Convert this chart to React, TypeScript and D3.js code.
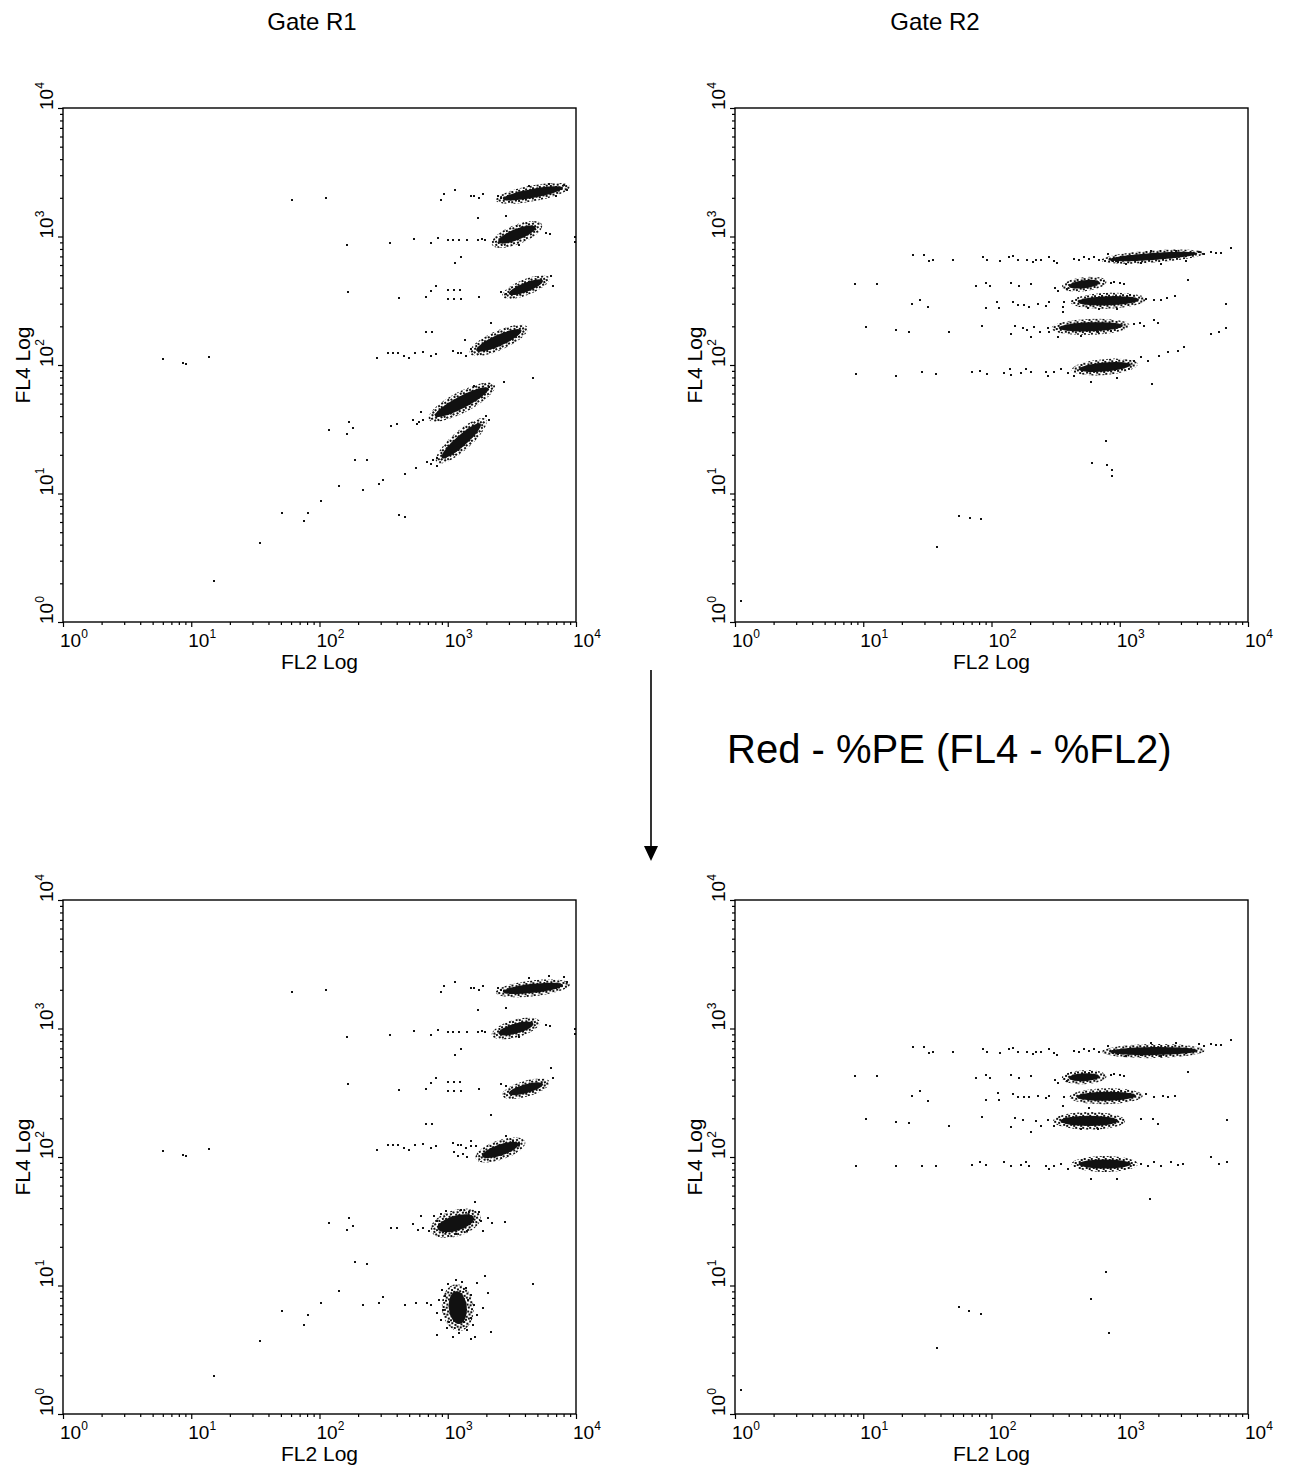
import React, { useEffect, useRef } from "react";
import * as d3 from "d3";

// all events in instrument channels (0..1023, log amplifier: 256 channels per decade)
// [FL2 channel, FL4 channel]
type Ev = [number, number];
// dense population: [FL2 start, FL4 start, FL2 end, FL4 end, core width] in channels
type Pop = [number, number, number, number, number];

const decades = [1, 10, 100, 1000, 10000];
const decadeExp = ["0", "1", "2", "3", "4"];
const gateTitles = ["Gate R1", "Gate R2"];
const xTitle = "FL2 Log";
const yTitle = "FL4 Log";
const bigLabel = "Red - %PE (FL4 - %FL2)";

// ---- gate R1 ----
const popsR1Raw: Pop[] = [
  [884, 844, 992, 864, 18],
  [876, 760, 936, 784, 22],
  [896, 656, 952, 678, 18],
  [832, 544, 908, 578, 22],
  [750, 414, 842, 462, 24],
  [762, 332, 828, 390, 22],
];
const popsR1Comp: Pop[] = [
  [884, 842, 992, 854, 18],
  [876, 760, 932, 776, 20],
  [896, 640, 952, 656, 18],
  [844, 516, 902, 536, 22],
  [758, 372, 810, 388, 30],
  [786, 232, 790, 192, 36],
];
// sparse events, same in both R1 plots (upper rows)
const outUpperR1: Ev[] = [
  [458, 840], [524, 844], [760, 852], [782, 860], [754, 840], [814, 848], [820, 848], [830, 844],
  [838, 852], [868, 848], [874, 844], [970, 872], [1000, 870], [1006, 860], [954, 852], [930, 868], [984, 848],
  [566, 752], [652, 756], [700, 764], [734, 756], [748, 766], [768, 762], [778, 762], [790, 762],
  [806, 762], [828, 762], [836, 764], [842, 762], [828, 804], [884, 808], [964, 774], [972, 772],
  [910, 752], [1022, 768], [1022, 758], [794, 728], [782, 716],
  [568, 658], [670, 646], [724, 648], [734, 660], [744, 670], [768, 662], [780, 662], [792, 662],
  [768, 644], [780, 644], [794, 644], [830, 648], [874, 658], [884, 654], [974, 690], [978, 670],
  [200, 524], [240, 516], [246, 514], [292, 528], [626, 526], [648, 536], [658, 536], [668, 536],
  [680, 530], [690, 526], [702, 536], [718, 538], [724, 578], [736, 578], [734, 530], [744, 534],
  [778, 540], [788, 536], [794, 536], [804, 530], [814, 544], [854, 596],
];
const outLowerR1Raw: Ev[] = [
  [802, 562], [880, 478], [938, 486], [820, 470], [838, 460], [850, 468],
  [530, 382], [570, 398], [578, 386], [566, 374], [654, 390], [666, 394], [698, 402], [706, 394],
  [710, 398], [718, 402], [714, 418], [582, 322], [606, 322], [682, 294], [704, 306], [638, 282],
  [630, 274], [598, 262], [550, 270], [514, 242], [438, 218], [490, 218], [482, 202], [394, 158],
  [302, 82], [670, 214], [682, 210], [726, 318], [734, 314], [738, 322], [746, 310], [746, 326],
  [844, 410], [850, 402],
];
const outLowerR1Comp: Ev[] = [
  [884, 554], [898, 544], [910, 538], [814, 534], [824, 534], [780, 522], [788, 514], [798, 518], [806, 512],
  [530, 380], [570, 390], [578, 374], [566, 366], [654, 370], [666, 370], [714, 394], [698, 378],
  [708, 366], [718, 370], [740, 394], [822, 422], [830, 402], [856, 380], [882, 382], [848, 390],
  [838, 364], [730, 364], [834, 384], [746, 384],
  [754, 398], [764, 404], [794, 406], [810, 402], [818, 388], [806, 364], [784, 358], [764, 362], [750, 376],
  [582, 302], [606, 298], [550, 246], [514, 222], [490, 198], [482, 178], [438, 206], [598, 218],
  [630, 222], [638, 234], [682, 218], [704, 222], [726, 222], [842, 274], [938, 258], [746, 158],
  [778, 154], [814, 150], [822, 154], [854, 164], [848, 242], [838, 212], [826, 260], [746, 202],
  [734, 218], [394, 146], [302, 76],
  [756, 248], [768, 258], [804, 252], [814, 238], [820, 218], [826, 198], [818, 178], [806, 168],
  [790, 162], [766, 172], [754, 188], [750, 228], [762, 236], [808, 228], [814, 192], [796, 262],
  [784, 266], [758, 208], [770, 184], [800, 184],
];

// ---- gate R2 ----
const popsR2Raw: Pop[] = [
  [750, 722, 918, 734, 14],
  [672, 670, 722, 676, 16],
  [690, 638, 800, 642, 18],
  [652, 586, 768, 590, 18],
  [692, 504, 784, 512, 18],
];
const popsR2Comp: Pop[] = [
  [752, 722, 918, 724, 16],
  [672, 670, 722, 672, 16],
  [688, 632, 794, 634, 18],
  [656, 584, 758, 584, 20],
  [692, 498, 784, 498, 18],
];
const outUpperR2: Ev[] = [
  [356, 732], [378, 732], [388, 720], [396, 722], [436, 722], [496, 728], [504, 722], [528, 720],
  [546, 728], [554, 730], [564, 722], [582, 722], [594, 718], [600, 722], [610, 722], [626, 728],
  [636, 720], [642, 716], [676, 724], [686, 722], [696, 728], [706, 724], [716, 728], [726, 722],
  [744, 734], [754, 720], [764, 718], [926, 738], [936, 734], [950, 738], [960, 736], [970, 736],
  [990, 746], [780, 714], [810, 716], [850, 714], [880, 740], [830, 740], [900, 720],
  [240, 674], [284, 674], [482, 670], [502, 676], [510, 670], [550, 676], [566, 670], [590, 674],
  [638, 666], [644, 660], [662, 664], [750, 676], [756, 678], [768, 676], [776, 674], [904, 682],
];
const outLowerR2Raw: Ev[] = [
  [354, 634], [370, 642], [386, 628], [502, 626], [522, 638], [526, 626], [554, 638], [564, 632],
  [576, 632], [586, 628], [604, 634], [620, 630], [626, 638], [654, 628], [656, 638], [654, 618],
  [820, 644], [836, 642], [850, 642], [862, 646], [878, 650], [980, 634], [704, 626], [726, 624], [762, 624],
  [262, 588], [322, 582], [348, 578], [428, 578], [494, 590], [550, 574], [558, 590], [574, 586],
  [582, 582], [590, 568], [596, 588], [608, 578], [624, 586], [626, 578], [644, 568], [796, 594],
  [808, 596], [816, 590], [836, 602], [844, 596], [950, 574], [966, 578], [980, 586], [690, 570],
  [724, 578], [750, 580],
  [242, 494], [322, 490], [374, 498], [402, 494], [474, 498], [490, 500], [504, 494], [536, 496],
  [548, 504], [550, 492], [570, 496], [580, 504], [590, 498], [620, 498], [624, 490], [636, 498],
  [650, 504], [664, 496], [676, 490], [710, 478], [762, 486], [796, 520], [810, 528], [824, 520],
  [832, 474], [846, 530], [864, 538], [884, 540], [896, 548],
  [740, 360], [712, 316], [742, 312], [752, 302], [752, 290], [448, 212], [470, 208], [492, 206],
  [404, 150], [12, 42],
];
const outLowerR2Comp: Ev[] = [
  [354, 634], [370, 644], [386, 624], [502, 626], [524, 640], [526, 626], [554, 638], [564, 632],
  [576, 632], [586, 632], [604, 634], [620, 630], [626, 634], [656, 632], [654, 614], [706, 610],
  [820, 638], [836, 632], [854, 634], [864, 632], [878, 634],
  [262, 588], [322, 582], [348, 580], [428, 574], [494, 592], [550, 572], [558, 590], [574, 586],
  [590, 562], [600, 584], [610, 574], [624, 586], [636, 574], [810, 588], [834, 588], [844, 578],
  [982, 586], [690, 568], [724, 568],
  [242, 494], [322, 494], [374, 494], [402, 494], [474, 496], [490, 502], [502, 496], [536, 502],
  [550, 494], [570, 496], [580, 502], [586, 494], [620, 494], [626, 488], [636, 494], [650, 498],
  [664, 488], [810, 498], [824, 494], [836, 502], [850, 494], [870, 502], [884, 496], [894, 498],
  [950, 512], [966, 498], [982, 502], [710, 468], [762, 468],
  [828, 428], [740, 282], [710, 230], [746, 162], [448, 214], [468, 206], [492, 200], [404, 132], [12, 48],
];

const PW = 513;
const PH = 514;
const panels = [
  { left: 63, top: 108, pops: popsR1Raw, events: [...outUpperR1, ...outLowerR1Raw] },
  { left: 735, top: 108, pops: popsR2Raw, events: [...outUpperR2, ...outLowerR2Raw] },
  { left: 63, top: 900, pops: popsR1Comp, events: [...outUpperR1, ...outLowerR1Comp] },
  { left: 735, top: 900, pops: popsR2Comp, events: [...outUpperR2, ...outLowerR2Comp] },
];
const titlePos = [312, 935];

const FONT = "'Liberation Sans', Arial, sans-serif";

export default function App() {
  const ref = useRef<SVGSVGElement>(null);

  useEffect(() => {
    const svg = d3.select(ref.current);
    svg.selectAll("*").remove();

    // speckle texture for the thin edge of each dense population
    const defs = svg.append("defs");
    const pat = defs
      .append("pattern")
      .attr("id", "speck")
      .attr("patternUnits", "userSpaceOnUse")
      .attr("width", 7)
      .attr("height", 6);
    [[0, 0], [4, 1], [2, 3], [5, 4]].forEach(([a, b]) =>
      pat.append("rect").attr("x", a).attr("y", b).attr("width", 2).attr("height", 2).attr("fill", "#111")
    );

    const x = d3.scaleLog().domain([1, 1e4]).range([0, PW]);
    const y = d3.scaleLog().domain([1, 1e4]).range([PH, 0]);
    const chan = (c: number) => 10 ** (c / 256);

    const minor: number[] = [];
    for (let d = 0; d < 4; d++) for (let k = 2; k < 10; k++) minor.push(k * 10 ** d);

    const geom = (d: Pop) => {
      const x1 = x(chan(d[0])), y1 = y(chan(d[1]));
      const x2 = x(chan(d[2])), y2 = y(chan(d[3]));
      const w = (d[4] * PH) / 1024;
      const len = Math.hypot(x2 - x1, y2 - y1);
      return {
        cx: (x1 + x2) / 2,
        cy: (y1 + y2) / 2,
        rx: len / 2 + w * 0.35,
        ry: w / 2,
        a: (Math.atan2(y2 - y1, x2 - x1) * 180) / Math.PI,
      };
    };

    panels.forEach((p) => {
      const g = svg.append("g").attr("transform", `translate(${p.left},${p.top})`);

      const pops = g.append("g").selectAll("g").data(p.pops).join("g").attr("transform", (d) => {
        const e = geom(d);
        return `translate(${e.cx},${e.cy}) rotate(${e.a})`;
      });
      pops.append("ellipse")
        .attr("rx", (d) => geom(d).rx + 7)
        .attr("ry", (d) => geom(d).ry * 1.75)
        .attr("fill", "url(#speck)");
      pops.append("ellipse")
        .attr("rx", (d) => geom(d).rx)
        .attr("ry", (d) => geom(d).ry)
        .attr("fill", "#111");

      // single events
      g.append("g")
        .selectAll("rect")
        .data(p.events)
        .join("rect")
        .attr("x", (d) => Math.round(x(chan(d[0]))) - 1)
        .attr("y", (d) => Math.round(y(chan(d[1]))) - 1)
        .attr("width", 2)
        .attr("height", 2)
        .attr("fill", "#111");

      // frame
      g.append("rect")
        .attr("width", PW)
        .attr("height", PH)
        .attr("fill", "none")
        .attr("stroke", "#000")
        .attr("stroke-width", 1.4);

      // x ticks
      g.append("g")
        .attr("transform", `translate(0,${PH})`)
        .call(d3.axisBottom(x).tickValues(minor).tickSize(3).tickFormat(() => ""))
        .call((a) => a.select(".domain").remove());
      g.append("g")
        .attr("transform", `translate(0,${PH})`)
        .call(d3.axisBottom(x).tickValues(decades).tickSize(5).tickFormat(() => ""))
        .call((a) => a.select(".domain").remove());
      // y ticks
      g.append("g")
        .call(d3.axisLeft(y).tickValues(minor).tickSize(3).tickFormat(() => ""))
        .call((a) => a.select(".domain").remove());
      g.append("g")
        .call(d3.axisLeft(y).tickValues(decades).tickSize(5).tickFormat(() => ""))
        .call((a) => a.select(".domain").remove());
      g.selectAll(".tick line").attr("stroke", "#000").attr("stroke-width", 1.2);

      // tick labels
      g.append("g")
        .selectAll("text")
        .data(decades)
        .join("text")
        .attr("x", (d) => x(d) - 3)
        .attr("y", PH + 25)
        .attr("font-family", FONT)
        .attr("font-size", 19)
        .each(function (_, i) {
          const t = d3.select(this);
          t.append("tspan").text("10");
          t.append("tspan").attr("dy", -9).attr("font-size", 12).text(decadeExp[i]);
        });
      g.append("g")
        .selectAll("text")
        .data(decades)
        .join("text")
        .attr("transform", (d) => `translate(-10,${y(d) + 2}) rotate(-90)`)
        .attr("font-family", FONT)
        .attr("font-size", 19)
        .each(function (_, i) {
          const t = d3.select(this);
          t.append("tspan").text("10");
          t.append("tspan").attr("dy", -9).attr("font-size", 12).text(decadeExp[i]);
        });

      // axis titles
      g.append("text")
        .attr("x", PW / 2)
        .attr("y", PH + 47)
        .attr("text-anchor", "middle")
        .attr("font-family", FONT)
        .attr("font-size", 21)
        .text(xTitle);
      g.append("text")
        .attr("transform", `translate(-33,${PH / 2}) rotate(-90)`)
        .attr("text-anchor", "middle")
        .attr("font-family", FONT)
        .attr("font-size", 21)
        .text(yTitle);
    });

    // gate titles
    svg
      .selectAll(".gate")
      .data(gateTitles)
      .join("text")
      .attr("class", "gate")
      .attr("x", (_, i) => titlePos[i])
      .attr("y", 30)
      .attr("text-anchor", "middle")
      .attr("font-family", FONT)
      .attr("font-size", 24)
      .text((d) => d);

    // arrow + compensation label
    svg.append("line").attr("x1", 651).attr("y1", 670).attr("x2", 651).attr("y2", 848)
      .attr("stroke", "#000").attr("stroke-width", 1.6);
    svg.append("path").attr("d", "M644,846 L658,846 L651,861 Z").attr("fill", "#000");
    svg.append("text")
      .attr("x", 727)
      .attr("y", 763)
      .attr("font-family", FONT)
      .attr("font-size", 40)
      .text(bigLabel);
  }, []);

  return (
    <svg
      ref={ref}
      width={1293}
      height={1469}
      style={{ position: "absolute", left: 0, top: 0, background: "#fff", display: "block" }}
    />
  );
}
